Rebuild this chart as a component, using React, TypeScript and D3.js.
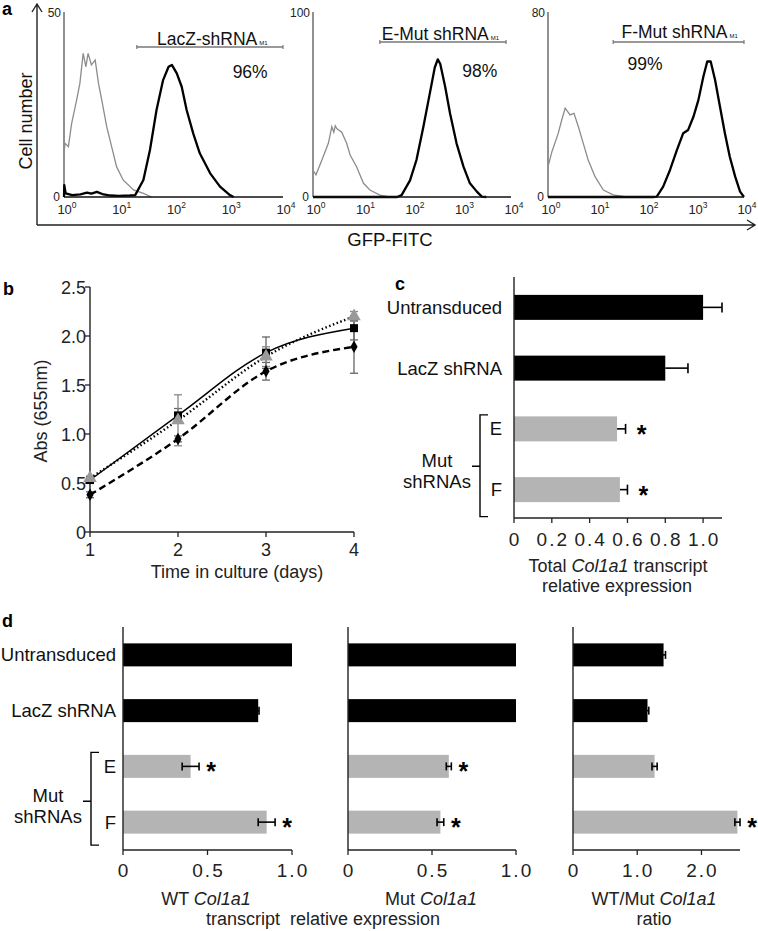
import React from 'react';
import * as d3 from 'd3';

const FONT = "'Liberation Sans', Arial, Helvetica, sans-serif";

// ---------------- Panel a: flow cytometry histograms (log10 GFP, cell count) ----------------
const histLogTicks = [0, 1, 2, 3, 4];
const histYMax = [50, 100, 80];
const histGateNames = ['LacZ-shRNA', 'E-Mut shRNA', 'F-Mut shRNA'];
const histGatePercents = ['96%', '98%', '99%'];
const histGateRange: [number, number][] = [[1.33, 4], [1.35, 3.9], [1.33, 4]];

const histLacZControl: [number, number][] = [
  [0.0, 12], [0.02, 14.5], [0.08, 13.6], [0.14, 19.9], [0.23, 26.2], [0.29, 30.7], [0.35, 38.8], [0.4, 35.2],
  [0.44, 38.8], [0.5, 35.7], [0.57, 37], [0.63, 30.7], [0.69, 26.2], [0.78, 19], [0.87, 13.6], [0.96, 8.2],
  [1.08, 4.6], [1.27, 1.9], [1.45, 1], [1.6, 0],
];
const histLacZGfp: [number, number][] = [
  [0, 0], [0.005, 3.2], [0.03, 1], [0.15, 0.5], [0.3, 0.7], [0.42, 1.2], [0.5, 0.9], [0.6, 1.4], [0.7, 0.8],
  [0.85, 0.4], [1.0, 0.3], [1.2, 0.4], [1.3, 0.5], [1.45, 4.6], [1.57, 12.7], [1.69, 23.5], [1.81, 31.6],
  [1.91, 35.2], [1.97, 35.7], [2.06, 33.4], [2.15, 29.8], [2.24, 23.5], [2.36, 17.2], [2.48, 11.8],
  [2.67, 6.4], [2.85, 2.8], [3.03, 0.5], [3.1, 0],
];
const histEControl: [number, number][] = [
  [0.02, 13.7], [0.06, 12], [0.18, 20], [0.31, 29], [0.38, 38], [0.42, 35], [0.45, 38.5], [0.48, 37],
  [0.58, 35], [0.68, 29], [0.75, 22.7], [0.88, 16.4], [1.02, 7.4], [1.15, 3.8], [1.35, 1], [1.55, 0],
];
const histEGfp: [number, number][] = [
  [0, 0], [1.7, 0], [1.79, 1], [1.96, 9], [2.09, 20], [2.23, 38], [2.36, 56], [2.46, 70], [2.52, 74.4],
  [2.57, 72], [2.67, 59.6], [2.77, 45], [2.9, 29], [3.04, 16.4], [3.17, 7.4], [3.31, 2.9], [3.41, 0.2], [3.5, 0],
];
const histFControl: [number, number][] = [
  [0.01, 13.9], [0.08, 19.6], [0.21, 27.6], [0.28, 33.3], [0.35, 38.4], [0.45, 35.5], [0.53, 36.2],
  [0.62, 30.4], [0.72, 23.2], [0.82, 16], [0.96, 8.8], [1.13, 3], [1.33, 0.9], [1.6, 0],
];
const histFGfp: [number, number][] = [
  [0, 0], [2.15, 0], [2.22, 0.2], [2.35, 4.5], [2.49, 11.7], [2.63, 20.3], [2.76, 27.6], [2.86, 29],
  [2.97, 34.8], [3.07, 42], [3.17, 52], [3.25, 58.6], [3.32, 58.6], [3.41, 50.6], [3.51, 39], [3.61, 27.6],
  [3.71, 17.4], [3.82, 8.8], [3.92, 2.3], [4.0, 0],
];
const histControls = [histLacZControl, histEControl, histFControl];
const histGfps = [histLacZGfp, histEGfp, histFGfp];

// ---------------- Panel b: growth curves ----------------
const days = [1, 2, 3, 4];
const absSolid = [0.53, 1.19, 1.83, 2.08];
const absSolidErr = [0.02, 0.07, 0.16, 0.12];
const absDotted = [0.55, 1.14, 1.79, 2.2];
const absDottedErr = [0.02, 0.26, 0.1, 0.05];
const absDashed = [0.38, 0.95, 1.64, 1.89];
const absDashedErr = [0.03, 0.03, 0.09, 0.27];
const absTicks = [0, 0.5, 1, 1.5, 2, 2.5];
const absTickLabels = ['0', '0.5', '1.0', '1.5', '2.0', '2.5'];

// ---------------- Panel c / d: bar charts ----------------
const groups = ['Untransduced', 'LacZ shRNA', 'E', 'F'];
const groupIsMut = [false, false, true, true];

const totalCol1a1 = [1.0, 0.8, 0.545, 0.56];
const totalCol1a1Err = [0.1, 0.12, 0.045, 0.04];
const totalCol1a1Sig = [false, false, true, true];
const totalTicks = [0, 0.2, 0.4, 0.6, 0.8, 1.0];
const totalTickLabels = ['0', '0.2', '0.4', '0.6', '0.8', '1.0'];

const wtCol1a1 = [1.0, 0.8, 0.4, 0.85];
const wtCol1a1Err = [0, 0.005, 0.05, 0.05];
const wtCol1a1Sig = [false, false, true, true];
const mutCol1a1 = [1.0, 1.0, 0.6, 0.55];
const mutCol1a1Err = [0, 0, 0.015, 0.02];
const mutCol1a1Sig = [false, false, true, true];
const ratioCol1a1 = [1.41, 1.16, 1.27, 2.56];
const ratioCol1a1Err = [0.03, 0.02, 0.04, 0.04];
const ratioCol1a1Sig = [false, false, false, true];
const relTicks = [0, 0.5, 1.0];
const relTickLabels = ['0', '0.5', '1.0'];
const ratioTicks = [0, 1, 2];
const ratioTickLabels = ['0', '1.0', '2.0'];

const BLACK = '#000';
const GRAYBAR = '#b4b4b4';

function Histogram({ idx, x0, x1, nameY, lineY, pctY, nameLog, pctLog }: any) {
  const x = d3.scaleLinear().domain([0, 4]).range([x0, x1]);
  const y = d3.scaleLinear().domain([0, histYMax[idx]]).range([197, 12]);
  const line = d3.line<[number, number]>().x(d => x(d[0])).y(d => y(d[1]));
  const [g0, g1] = histGateRange[idx];
  return (
    <g>
      <line x1={x0} x2={x0} y1={y(histYMax[idx])} y2={197} stroke="#555" strokeWidth={1.3} />
      <text x={x0 - 3} y={y(histYMax[idx]) + 5} fontSize={12} textAnchor="end" fill="#222">{histYMax[idx]}</text>
      <text x={x0 - 4} y={201} fontSize={12} textAnchor="end" fill="#222">0</text>
      <path d={line(histControls[idx]) || ''} fill="none" stroke="#8c8c8c" strokeWidth={1.3} />
      <path d={line(histGfps[idx]) || ''} fill="none" stroke="#000" strokeWidth={2.3} strokeLinejoin="round" />
      <line x1={x0} x2={x1} y1={197} y2={197} stroke="#111" strokeWidth={1.6} />
      {histLogTicks.map(t => (
        <text key={t} x={x(t) + 3} y={214} fontSize={13} textAnchor="middle" fill="#222">
          10<tspan fontSize={8.5} dy={-6}>{t}</tspan>
        </text>
      ))}
      <line x1={x(g0)} x2={x(g1)} y1={lineY} y2={lineY} stroke="#777" strokeWidth={1.3} />
      <line x1={x(g0)} x2={x(g0)} y1={lineY - 2} y2={lineY + 2} stroke="#777" strokeWidth={1.2} />
      <line x1={x(g1)} x2={x(g1)} y1={lineY - 2} y2={lineY + 2} stroke="#777" strokeWidth={1.2} />
      <text x={x(nameLog)} y={nameY} fontSize={17.5} fill="#111">
        {histGateNames[idx]}<tspan fontSize={6} dx={2}>M1</tspan>
      </text>
      <text x={x(pctLog)} y={pctY} fontSize={17.5} textAnchor="middle" fill="#111">{histGatePercents[idx]}</text>
    </g>
  );
}

function PanelA() {
  return (
    <g>
      <text x={2} y={15} fontSize={18} fontWeight="bold">a</text>
      <path d="M37,225 V5 M32,12 L37,4 L42,12" fill="none" stroke="#222" strokeWidth={1.4} />
      <path d="M37,225 H755 M747,220 L755,225 L747,230" fill="none" stroke="#222" strokeWidth={1.4} />
      <text transform="translate(32,121) rotate(-90)" fontSize={18} textAnchor="middle" fill="#111">Cell number</text>
      <text x={390} y={246} fontSize={18.5} textAnchor="middle" fill="#111">GFP-FITC</text>
      <Histogram idx={0} x0={64} x1={283} nameY={45} lineY={47} pctY={78} nameLog={1.7} pctLog={3.4} />
      <Histogram idx={1} x0={313} x1={511} nameY={40} lineY={42} pctY={77} nameLog={1.39} pctLog={3.37} />
      <Histogram idx={2} x0={548} x1={744} nameY={38} lineY={42} pctY={70} nameLog={1.5} pctLog={1.98} />
    </g>
  );
}

function PanelB() {
  const x = d3.scaleLinear().domain([1, 4]).range([90, 354]);
  const y = d3.scaleLinear().domain([0, 2.5]).range([532, 287]);
  const mk = (vals: number[]) =>
    d3.line<number>().x((_, i) => x(days[i])).y(d => y(d)).curve(d3.curveMonotoneX)(vals) || '';
  const errBars = (vals: number[], errs: number[], color: string) =>
    vals.map((v, i) => (
      <g key={i} stroke={color} strokeWidth={1.3}>
        <line x1={x(days[i])} x2={x(days[i])} y1={y(v - errs[i])} y2={y(v + errs[i])} />
        <line x1={x(days[i]) - 4} x2={x(days[i]) + 4} y1={y(v - errs[i])} y2={y(v - errs[i])} />
        <line x1={x(days[i]) - 4} x2={x(days[i]) + 4} y1={y(v + errs[i])} y2={y(v + errs[i])} />
      </g>
    ));
  const sq = d3.symbol(d3.symbolSquare, 64)() || '';
  const tri = d3.symbol(d3.symbolTriangle, 80)() || '';
  const dia = d3.symbol(d3.symbolDiamond, 45)() || '';
  return (
    <g>
      <text x={3} y={295} fontSize={18} fontWeight="bold">b</text>
      <line x1={90} x2={90} y1={287} y2={532} stroke="#222" strokeWidth={1.4} />
      <line x1={90} x2={354} y1={532} y2={532} stroke="#222" strokeWidth={1.4} />
      {absTicks.map((t, i) => (
        <g key={t}>
          <line x1={85} x2={90} y1={y(t)} y2={y(t)} stroke="#222" strokeWidth={1.3} />
          <text x={86} y={y(t) + 6.5} fontSize={18} textAnchor="end" fill="#222">{absTickLabels[i]}</text>
        </g>
      ))}
      {days.map(d => (
        <g key={d}>
          <line x1={x(d)} x2={x(d)} y1={532} y2={537} stroke="#222" strokeWidth={1.3} />
          <text x={x(d)} y={556} fontSize={18} textAnchor="middle" fill="#222">{d}</text>
        </g>
      ))}
      <text x={237} y={578} fontSize={18} textAnchor="middle" fill="#222">Time in culture (days)</text>
      <text transform="translate(47,411) rotate(-90)" fontSize={18} textAnchor="middle" fill="#222">Abs (655nm)</text>
      {errBars(absDashed, absDashedErr, '#666')}
      {errBars(absSolid, absSolidErr, '#666')}
      {errBars(absDotted, absDottedErr, '#888')}
      <path d={mk(absDashed)} fill="none" stroke="#000" strokeWidth={2.4} strokeDasharray="7,4" />
      <path d={mk(absSolid)} fill="none" stroke="#000" strokeWidth={1.5} />
      <path d={mk(absDotted)} fill="none" stroke="#000" strokeWidth={2.4} strokeDasharray="1.5,2.5" />
      {absDashed.map((v, i) => <path key={'d' + i} d={dia} transform={`translate(${x(days[i])},${y(v)})`} fill="#000" />)}
      {absSolid.map((v, i) => <path key={'s' + i} d={sq} transform={`translate(${x(days[i])},${y(v)})`} fill="#000" />)}
      {absDotted.map((v, i) => <path key={'t' + i} d={tri} transform={`translate(${x(days[i])},${y(v)})`} fill="#999" />)}
    </g>
  );
}

function Bars({ x, y, vals, errs, sig, barH, capH, oneSided, starGap }: any) {
  return (
    <g>
      {groups.map((g, i) => {
        const cy = y(g);
        const v = vals[i];
        const e = errs[i];
        const lo = oneSided ? v : v - e;
        return (
          <g key={g}>
            <rect x={x(0)} y={cy - barH / 2} width={x(v) - x(0)} height={barH} fill={groupIsMut[i] ? GRAYBAR : BLACK} />
            {e > 0 && (
              <g stroke="#000" strokeWidth={1.6}>
                <line x1={x(lo)} x2={x(v + e)} y1={cy} y2={cy} />
                <line x1={x(v + e)} x2={x(v + e)} y1={cy - capH / 2} y2={cy + capH / 2} />
                {!oneSided && <line x1={x(lo)} x2={x(lo)} y1={cy - capH / 2} y2={cy + capH / 2} />}
              </g>
            )}
            {sig[i] && (
              <text x={x(v + e) + starGap} y={cy + 14} fontSize={25} fontWeight="bold" textAnchor="middle" fill="#000">*</text>
            )}
          </g>
        );
      })}
    </g>
  );
}

function GroupLabels({ y, rightX, bracketX, fs, botPad }: any) {
  const yE = y('E');
  const yF = y('F');
  const top = yE - 14;
  const bot = yF + botPad;
  const mid = y('E') + (yF - yE) / 2 + 7;
  return (
    <g fontSize={fs} fill="#111">
      {groups.map(g => (
        <text key={g} x={rightX} y={y(g) + 6.5} textAnchor="end">{g}</text>
      ))}
      <path d={`M${bracketX + 8},${top} H${bracketX} V${bot} H${bracketX + 8} M${bracketX - 8},${mid} H${bracketX}`}
        fill="none" stroke="#000" strokeWidth={1.4} />
      <text x={bracketX - 43} y={mid + 1} textAnchor="middle">Mut</text>
      <text x={bracketX - 43} y={mid + 22} textAnchor="middle">shRNAs</text>
    </g>
  );
}

function PanelC() {
  const x = d3.scaleLinear().domain([0, 1.1]).range([514, 722]);
  const y = d3.scalePoint<string>().domain(groups).range([277, 520]).padding(0.5);
  return (
    <g>
      <text x={395} y={290} fontSize={18} fontWeight="bold">c</text>
      <Bars x={x} y={y} vals={totalCol1a1} errs={totalCol1a1Err} sig={totalCol1a1Sig} barH={25} capH={10} oneSided starGap={16} />
      <line x1={514} x2={514} y1={277} y2={518} stroke="#222" strokeWidth={1.4} />
      <line x1={514} x2={722} y1={518} y2={518} stroke="#222" strokeWidth={1.4} />
      {totalTicks.map((t, i) => (
        <g key={t}>
          <line x1={x(t)} x2={x(t)} y1={518} y2={523} stroke="#222" strokeWidth={1.3} />
          <text x={x(t) + 1} y={546} fontSize={19} textAnchor="middle" fill="#222" letterSpacing={2}>{totalTickLabels[i]}</text>
        </g>
      ))}
      <text x={618} y={572} fontSize={18} textAnchor="middle" fill="#222">
        Total <tspan fontStyle="italic">Col1a1</tspan> transcript
      </text>
      <text x={617} y={592} fontSize={18} textAnchor="middle" fill="#222">relative expression</text>
      <GroupLabels y={y} rightX={502} bracketX={480} fs={18.5} botPad={27} />
    </g>
  );
}

function SubD({ x, y, vals, errs, sig, ticks, tickLabels }: any) {
  const [x0, x1] = x.range();
  return (
    <g>
      <Bars x={x} y={y} vals={vals} errs={errs} sig={sig} barH={23} capH={8} oneSided={false} starGap={12} />
      <line x1={x0} x2={x0} y1={627} y2={850} stroke="#222" strokeWidth={1.4} />
      <line x1={x0} x2={x1} y1={850} y2={850} stroke="#222" strokeWidth={1.4} />
      {ticks.map((t: number, i: number) => (
        <g key={t}>
          <line x1={x(t)} x2={x(t)} y1={850} y2={855} stroke="#222" strokeWidth={1.3} />
          <text x={x(t) + 1} y={877} fontSize={19} textAnchor="middle" fill="#222" letterSpacing={2}>{tickLabels[i]}</text>
        </g>
      ))}
    </g>
  );
}

function PanelD() {
  const y = d3.scalePoint<string>().domain(groups).range([627, 850]).padding(0.5);
  const xWt = d3.scaleLinear().domain([0, 1]).range([123, 292]);
  const xMut = d3.scaleLinear().domain([0, 1]).range([348, 516]);
  const xRatio = d3.scaleLinear().domain([0, 2.6]).range([573, 740]);
  return (
    <g>
      <text x={2} y={627} fontSize={18} fontWeight="bold">d</text>
      <SubD x={xWt} y={y} vals={wtCol1a1} errs={wtCol1a1Err} sig={wtCol1a1Sig} ticks={relTicks} tickLabels={relTickLabels} />
      <SubD x={xMut} y={y} vals={mutCol1a1} errs={mutCol1a1Err} sig={mutCol1a1Sig} ticks={relTicks} tickLabels={relTickLabels} />
      <SubD x={xRatio} y={y} vals={ratioCol1a1} errs={ratioCol1a1Err} sig={ratioCol1a1Sig} ticks={ratioTicks} tickLabels={ratioTickLabels} />
      <GroupLabels y={y} rightX={116} bracketX={91} fs={18.5} botPad={23} />
      <text x={206} y={905} fontSize={18} textAnchor="middle" fill="#222">
        WT <tspan fontStyle="italic">Col1a1</tspan>
      </text>
      <text x={431} y={905} fontSize={18} textAnchor="middle" fill="#222">
        Mut <tspan fontStyle="italic">Col1a1</tspan>
      </text>
      <text x={654} y={905} fontSize={18} textAnchor="middle" fill="#222">
        WT/Mut <tspan fontStyle="italic">Col1a1</tspan>
      </text>
      <text x={323} y={925} fontSize={18} textAnchor="middle" fill="#222" xmlSpace="preserve">transcript  relative expression</text>
      <text x={654} y={925} fontSize={18} textAnchor="middle" fill="#222">ratio</text>
    </g>
  );
}

export default function App() {
  return (
    <svg width={758} height={931} style={{ position: 'absolute', left: 0, top: 0, background: '#fff' }} fontFamily={FONT}>
      <rect width={758} height={931} fill="#fff" />
      <PanelA />
      <PanelB />
      <PanelC />
      <PanelD />
    </svg>
  );
}
